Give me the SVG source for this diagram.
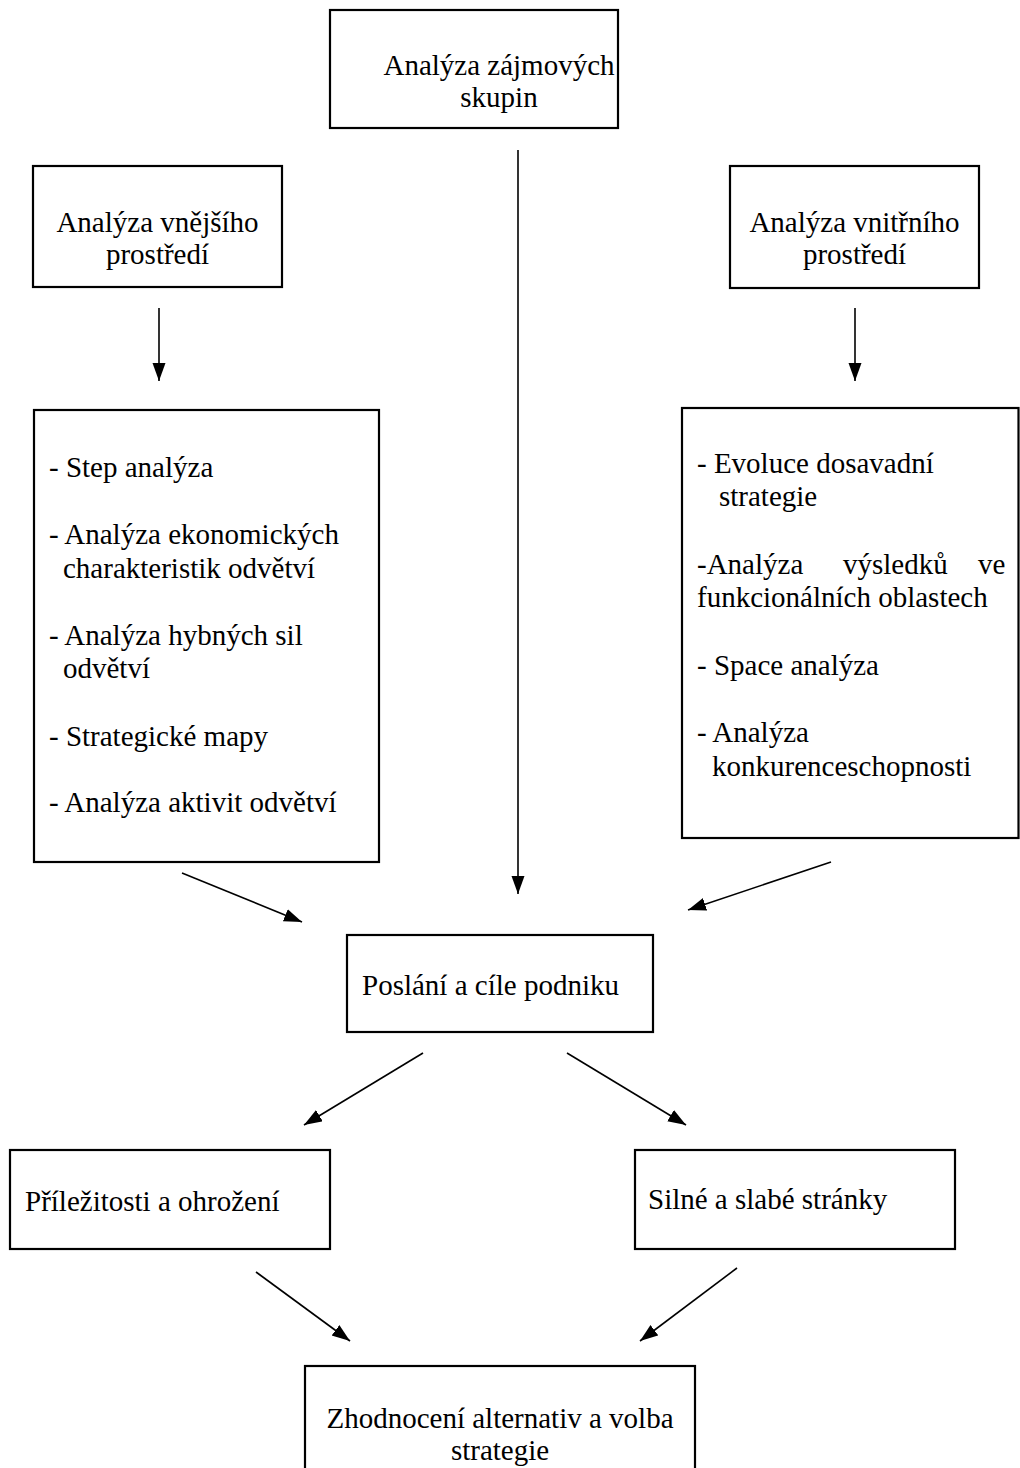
<svg xmlns="http://www.w3.org/2000/svg" width="1020" height="1468" viewBox="0 0 1020 1468">
<style>
.box{fill:#fff;stroke:#000;stroke-width:2.2}
.t{font-family:"Liberation Serif","Times New Roman",serif;font-size:29px;fill:#000}
.c{text-anchor:middle}
.ln{stroke:#000;stroke-width:1.6;fill:none;marker-end:url(#ah)}
</style>
<defs>
<marker id="ah" markerUnits="userSpaceOnUse" markerWidth="20" markerHeight="14" refX="18" refY="6.5" orient="auto">
<path d="M0,0 L18,6.5 L0,13 z" fill="#000"/>
</marker>
</defs>
<rect width="1020" height="1468" fill="#fff"/>
<g id="connectors">
<line class="ln" x1="518" y1="150" x2="518" y2="894"/>
<line class="ln" x1="159" y1="308" x2="159" y2="381"/>
<line class="ln" x1="855" y1="308" x2="855" y2="381"/>
<line class="ln" x1="182" y1="873" x2="302" y2="922"/>
<line class="ln" x1="831" y1="862" x2="688" y2="910"/>
<line class="ln" x1="423" y1="1053" x2="304" y2="1125"/>
<line class="ln" x1="567" y1="1053" x2="686" y2="1125"/>
<line class="ln" x1="256" y1="1272" x2="350" y2="1341"/>
<line class="ln" x1="737" y1="1268" x2="640" y2="1341"/>
</g>
<g id="n-zajmove">
<rect class="box" x="330" y="10" width="288" height="118"/>
<text class="t c" x="499" y="75">Analýza zájmových</text>
<text class="t c" x="499" y="107">skupin</text>
</g>
<g id="n-vnejsi">
<rect class="box" x="33" y="166" width="249" height="121"/>
<text class="t c" x="157.5" y="232">Analýza vnějšího</text>
<text class="t c" x="157.5" y="264">prostředí</text>
</g>
<g id="n-vnitrni">
<rect class="box" x="730" y="166" width="249" height="122"/>
<text class="t c" x="854.5" y="232">Analýza vnitřního</text>
<text class="t c" x="854.5" y="264">prostředí</text>
</g>
<g id="n-vnejsi-list">
<rect class="box" x="34" y="410" width="345" height="452"/>
<text class="t" x="49" y="477">- Step analýza</text>
<text class="t" x="49" y="544">- Analýza ekonomických</text>
<text class="t" x="63" y="578">charakteristik odvětví</text>
<text class="t" x="49" y="645">- Analýza hybných sil</text>
<text class="t" x="63" y="678">odvětví</text>
<text class="t" x="49" y="746">- Strategické mapy</text>
<text class="t" x="49" y="812">- Analýza aktivit odvětví</text>
</g>
<g id="n-vnitrni-list">
<rect class="box" x="682" y="408" width="336.5" height="430"/>
<text class="t" x="697" y="473">- Evoluce dosavadní</text>
<text class="t" x="719" y="506">strategie</text>
<text class="t" y="574"><tspan x="697">-Analýza</tspan><tspan x="843">výsledků</tspan><tspan x="978">ve</tspan></text>
<text class="t" x="697" y="607">funkcionálních oblastech</text>
<text class="t" x="697" y="675">- Space analýza</text>
<text class="t" x="697" y="742">- Analýza</text>
<text class="t" x="712" y="776">konkurenceschopnosti</text>
</g>
<g id="n-poslani">
<rect class="box" x="347" y="935" width="306" height="97"/>
<text class="t" x="362" y="995">Poslání a cíle podniku</text>
</g>
<g id="n-prilezitosti">
<rect class="box" x="10" y="1150" width="320" height="99"/>
<text class="t" x="25" y="1211">Příležitosti a ohrožení</text>
</g>
<g id="n-silne">
<rect class="box" x="635" y="1150" width="320" height="99"/>
<text class="t" x="648" y="1209">Silné a slabé stránky</text>
</g>
<g id="n-zhodnoceni">
<rect class="box" x="305" y="1366" width="390" height="120"/>
<text class="t c" x="500" y="1428">Zhodnocení alternativ a volba</text>
<text class="t c" x="500" y="1460">strategie</text>
</g>
</svg>
